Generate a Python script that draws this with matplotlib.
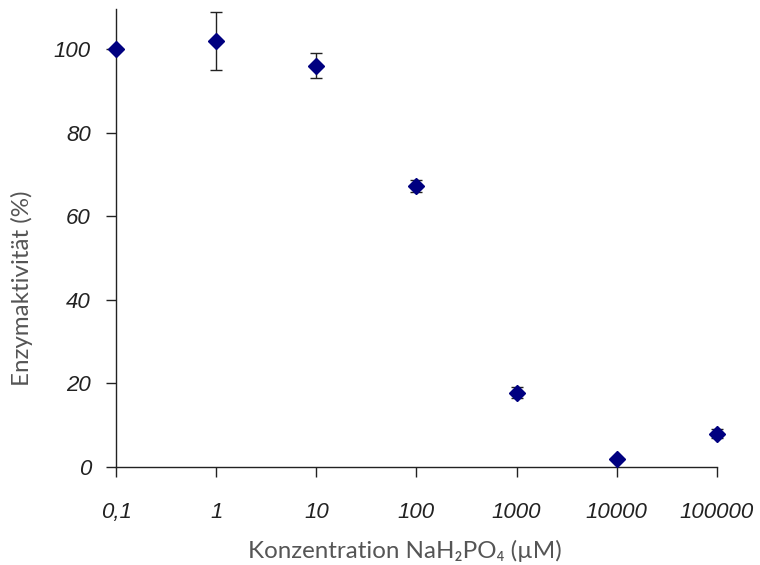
import matplotlib
matplotlib.use("Agg")
import matplotlib.pyplot as plt
import numpy as np

konz = [0.1, 1, 10, 100, 1000, 10000, 100000]
aktivitaet = [100, 102, 96, 67.3, 17.8, 1.9, 8.0]
fehler = [0, 7, 3, 1.4, 1.3, 0, 1.0]
xtick_labels = ["0,1", "1", "10", "100", "1000", "10000", "100000"]
yticks = [0, 20, 40, 60, 80, 100]

plt.rcParams['font.family'] = ['Liberation Sans', 'DejaVu Sans']

fig = plt.figure(figsize=(7.6, 5.65), dpi=100)
ax = fig.add_axes([0.1526, 0.1735, 0.7908, 0.8105])

ax.errorbar(konz, aktivitaet, yerr=fehler, fmt='D', color='#000080',
            markersize=8, ecolor='#222222', elinewidth=1.0, capsize=4,
            capthick=1.0, clip_on=False, zorder=3)

ax.set_xscale('log')
ax.set_xlim(0.1, 100000)
ax.set_ylim(0, 109.6)
ax.set_xticks(konz)
ax.set_xticklabels(xtick_labels)
ax.minorticks_off()
ax.set_yticks(yticks)

for s in ['top', 'right']:
    ax.spines[s].set_visible(False)
for s in ['left', 'bottom']:
    ax.spines[s].set_linewidth(1.0)
    ax.spines[s].set_color('#222222')

ax.tick_params(axis='both', direction='out', length=7, width=1.0, color='#222222',
               labelsize=16, labelcolor='#222222')
ax.tick_params(axis='x', pad=18.5)
ax.tick_params(axis='y', pad=11)
for lab in ax.get_xticklabels() + ax.get_yticklabels():
    lab.set_fontstyle('italic')

ax.set_xlabel("Konzentration NaH₂PO₄ (µM)", fontsize=17.4, color='#555555',
              family=['Lato', 'DejaVu Sans'], labelpad=12)
ax.set_ylabel("Enzymaktivität (%)", fontsize=17.4, color='#555555',
              family=['Lato', 'DejaVu Sans'])
ax.yaxis.set_label_coords(-0.138, 0.39)
ax.xaxis.label.set_x(0.481)

fig.savefig("out.png", dpi=100)
